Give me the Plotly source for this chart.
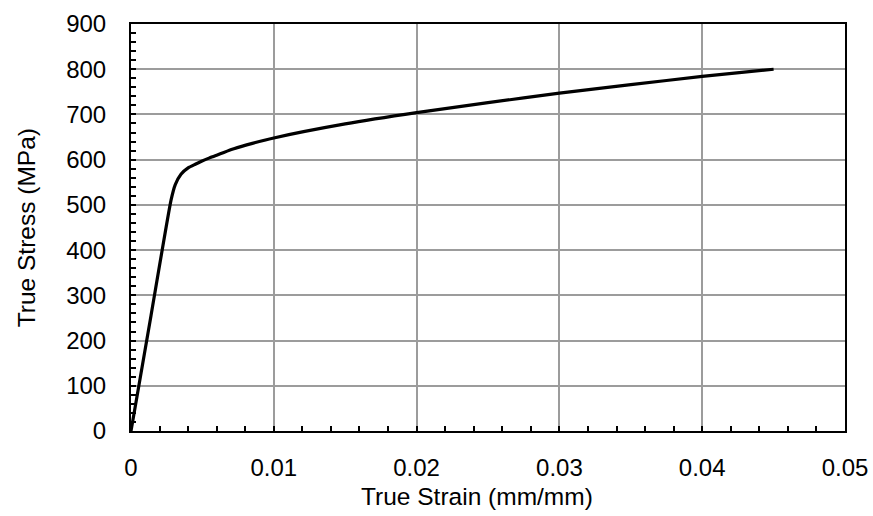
import plotly.graph_objects as go

strain = [0.0, 0.0014, 0.0028, 0.0031, 0.0035, 0.0040, 0.0045, 0.0049, 0.0055, 0.0060,
          0.0065, 0.0072, 0.0085, 0.0100, 0.0150, 0.0200, 0.0250, 0.0300, 0.0350,
          0.0400, 0.0450]
stress = [0, 255, 510, 545, 568, 582, 590, 596, 604, 610,
          616, 624, 636, 648, 679, 704, 726, 747, 766,
          784, 800]

x_ticks = [0, 0.01, 0.02, 0.03, 0.04, 0.05]
x_labels = ["0", "0.01", "0.02", "0.03", "0.04", "0.05"]
y_ticks = [0, 100, 200, 300, 400, 500, 600, 700, 800, 900]

FONT = "Liberation Sans, Arial, sans-serif"

fig = go.Figure()
fig.add_trace(go.Scatter(
    x=strain, y=stress, mode="lines",
    line=dict(color="black", width=3.2, shape="spline", smoothing=0.5),
    showlegend=False, hoverinfo="skip"))

axis_common = dict(
    showline=True, linecolor="black", linewidth=2, mirror=True,
    showgrid=True, gridcolor="#9c9c9c", gridwidth=2,
    ticks="inside", ticklen=5, tickwidth=2, tickcolor="black",
    zeroline=False, automargin=False,
    tickfont=dict(family=FONT, size=24, color="black"),
)

fig.update_xaxes(
    range=[0, 0.05], tickvals=x_ticks, ticktext=x_labels,
    minor=dict(ticks="inside", ticklen=5, tickwidth=2, tickcolor="black", dtick=0.002, showgrid=False),
    ticklabelstandoff=14,
    **axis_common)
fig.update_yaxes(
    range=[0, 900], tickvals=y_ticks,
    minor=dict(ticks="inside", ticklen=5, tickwidth=2, tickcolor="black", dtick=20, showgrid=False),
    ticklabelstandoff=18,
    **axis_common)

title_font = dict(family=FONT, size=24.5, color="black")
fig.add_annotation(text="True Strain (mm/mm)", xref="paper", yref="paper",
                   x=0.485, y=-0.162, xanchor="center", yanchor="middle",
                   showarrow=False, font=title_font)
fig.add_annotation(text="True Stress (MPa)", xref="paper", yref="paper",
                   x=-0.146, y=0.5, xanchor="center", yanchor="middle", textangle=-90,
                   showarrow=False, font=title_font)

fig.update_layout(
    width=873, height=516,
    margin=dict(l=131, r=28, t=24, b=85),
    paper_bgcolor="white", plot_bgcolor="white",
)

fig.write_html("out.html")
